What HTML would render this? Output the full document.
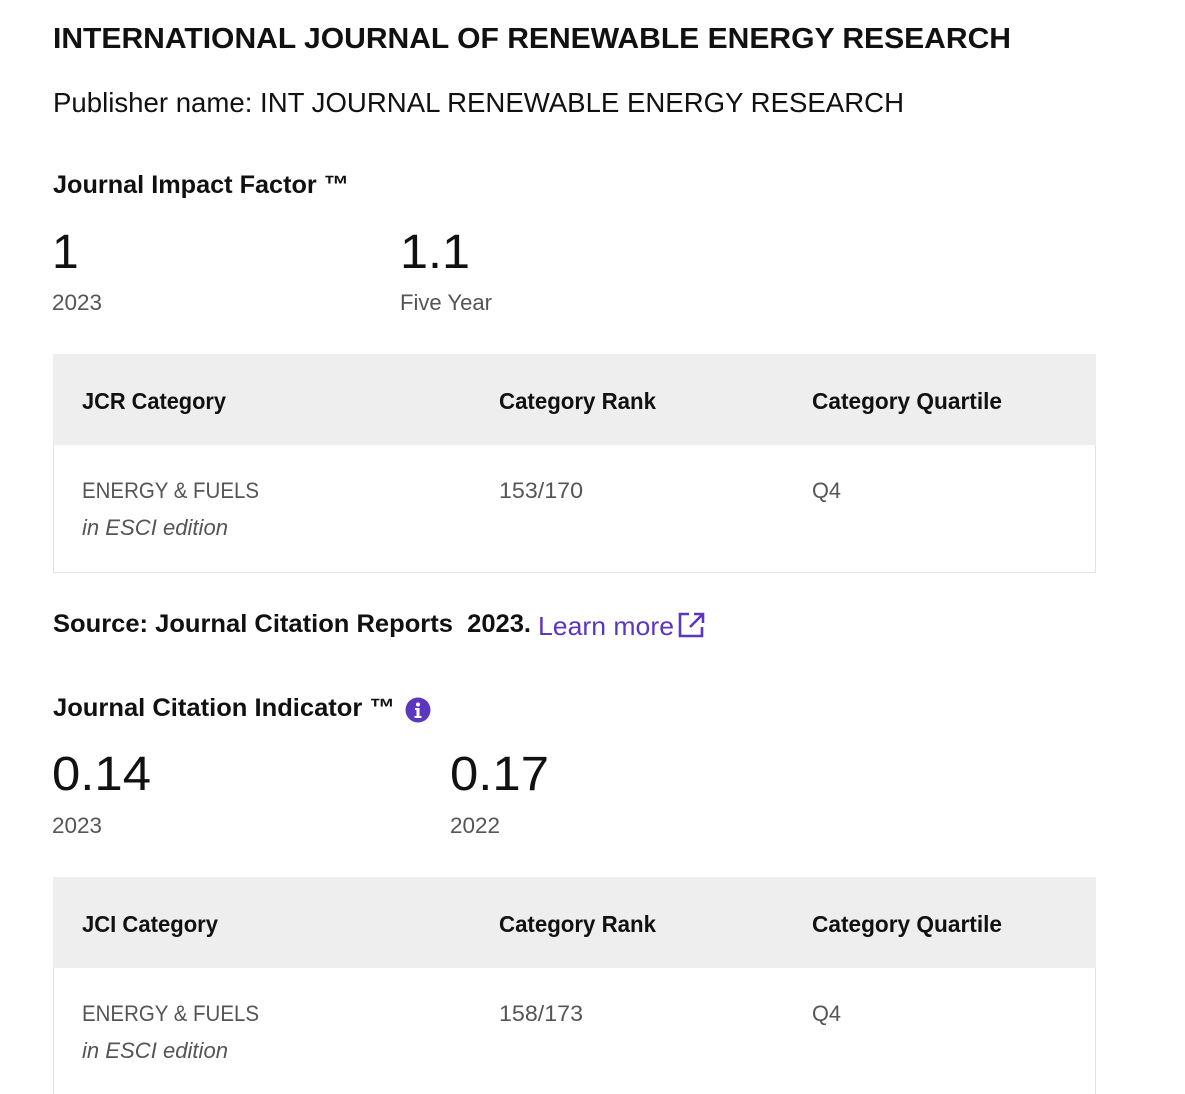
<!DOCTYPE html>
<html><head><meta charset="utf-8">
<style>
html,body{margin:0;padding:0;background:#fff;width:1185px;height:1094px;overflow:hidden;position:relative;font-family:"Liberation Sans",sans-serif;}
.t{position:absolute;white-space:nowrap;transform-origin:0 50%;line-height:1;}
.b{font-weight:bold;color:#111;}
.g{color:#555;}
.box{position:absolute;box-sizing:border-box;}
.hdr{background:#eeeeee;}
.body{border:1px solid #e2e2e2;border-top:none;}
a{color:#5b37bf;text-decoration:none;}
</style></head><body>
<div class="t b" data-w="958" style="left:53px;top:25px;font-size:29px;">INTERNATIONAL JOURNAL OF RENEWABLE ENERGY RESEARCH</div>
<div class="t" data-w="851" style="left:53px;top:89px;font-size:28px;color:#111;">Publisher name: INT JOURNAL RENEWABLE ENERGY RESEARCH</div>

<div class="t b" data-w="296" style="left:53px;top:173px;font-size:25px;">Journal Impact Factor ™</div>
<div class="t" style="left:52px;top:229px;font-size:48px;color:#111;">1</div>
<div class="t g" data-w="50" style="left:52px;top:292px;font-size:22px;">2023</div>
<div class="t" data-w="70" style="left:400px;top:229px;font-size:48px;color:#111;">1.1</div>
<div class="t g" data-w="92" style="left:400px;top:292px;font-size:22px;">Five Year</div>

<div class="box hdr" style="left:53px;top:354px;width:1043px;height:91px;"></div>
<div class="box body" style="left:53px;top:445px;width:1043px;height:128px;"></div>
<div class="t b" data-w="144" style="left:82px;top:390px;font-size:23px;">JCR Category</div>
<div class="t b" data-w="157" style="left:499px;top:390px;font-size:23px;">Category Rank</div>
<div class="t b" data-w="190" style="left:812px;top:390px;font-size:23px;">Category Quartile</div>
<div class="t g" data-w="177" style="left:82px;top:480px;font-size:22px;">ENERGY &amp; FUELS</div>
<div class="t g" data-w="146" style="left:82px;top:517px;font-size:22px;font-style:italic;">in ESCI edition</div>
<div class="t g" data-w="84" style="left:499px;top:480px;font-size:22px;">153/170</div>
<div class="t g" data-w="29" style="left:812px;top:480px;font-size:22px;">Q4</div>

<div class="t b" data-w="478" style="left:53px;top:612px;font-size:25px;">Source: Journal Citation Reports&nbsp; 2023.</div>
<a class="t" href="#" data-w="136" style="left:538px;top:613px;font-size:26px;">Learn more</a>
<svg style="position:absolute;left:678px;top:612px" width="27" height="26" viewBox="0 0 27 26"><path d="M11 2H2v22h22v-9" fill="none" stroke="#5b37bf" stroke-width="2.6"/><path d="M16 2h9v9M25 2L12 15" fill="none" stroke="#5b37bf" stroke-width="2.6"/></svg>

<div class="t b" data-w="342" style="left:53px;top:696px;font-size:25px;">Journal Citation Indicator ™</div>
<svg style="position:absolute;left:405px;top:697px" width="26" height="26" viewBox="0 0 26 26"><circle cx="13" cy="13" r="12.5" fill="#5b37bf"/><circle cx="13" cy="7.5" r="2" fill="#fff"/><path d="M10 11h4.5v8h2v2h-7v-2h2v-6H10z" fill="#fff"/></svg>
<div class="t" data-w="99" style="left:52px;top:751px;font-size:48px;color:#111;">0.14</div>
<div class="t g" data-w="50" style="left:52px;top:815px;font-size:22px;">2023</div>
<div class="t" data-w="99" style="left:450px;top:751px;font-size:48px;color:#111;">0.17</div>
<div class="t g" data-w="50" style="left:450px;top:815px;font-size:22px;">2022</div>

<div class="box hdr" style="left:53px;top:877px;width:1043px;height:91px;"></div>
<div class="box body" style="left:53px;top:968px;width:1043px;height:140px;"></div>
<div class="t b" data-w="136" style="left:82px;top:913px;font-size:23px;">JCI Category</div>
<div class="t b" data-w="157" style="left:499px;top:913px;font-size:23px;">Category Rank</div>
<div class="t b" data-w="190" style="left:812px;top:913px;font-size:23px;">Category Quartile</div>
<div class="t g" data-w="177" style="left:82px;top:1003px;font-size:22px;">ENERGY &amp; FUELS</div>
<div class="t g" data-w="146" style="left:82px;top:1040px;font-size:22px;font-style:italic;">in ESCI edition</div>
<div class="t g" data-w="84" style="left:499px;top:1003px;font-size:22px;">158/173</div>
<div class="t g" data-w="29" style="left:812px;top:1003px;font-size:22px;">Q4</div>
<script>
document.querySelectorAll('[data-w]').forEach(function(el){
  var w=el.getBoundingClientRect().width, t=parseFloat(el.getAttribute('data-w'));
  if(w>0) el.style.transform='scaleX('+(t/w)+')';
});
</script>
</body></html>
